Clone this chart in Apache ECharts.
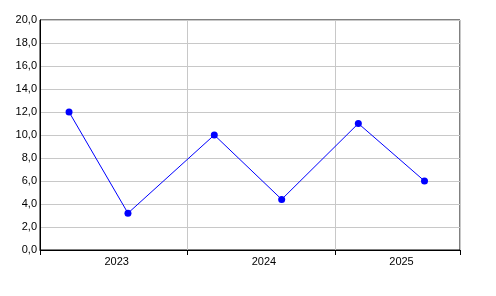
<!DOCTYPE html>
<html>
<head>
<meta charset="utf-8">
<script src="https://cdn.jsdelivr.net/npm/echarts@6/dist/echarts.min.js"></script>
<style>html,body{margin:0;padding:0;background:#fff;}#c{width:496px;height:296px;}</style>
</head>
<body>
<div id="c"></div>
<script>
var dates = ['2023-03-14', '2023-08-07', '2024-03-08', '2024-08-22', '2025-02-28', '2025-08-11'];
var values = [12.0, 3.2, 10.0, 4.4, 11.0, 6.0];
var axisStart = '2023-01-01';
var axisEnd = '2025-11-07';
var yearTicks = ['2023-01-01', '2024-01-01', '2025-01-01', '2025-11-07'];
var yearLabelAt = ['2023-07-10', '2024-07-09', '2025-06-15'];
var yearLabels = ['2023', '2024', '2025'];

function t(s) { return new Date(s + 'T00:00:00Z').getTime(); }
var labelTs = yearLabelAt.map(t);

var chart = echarts.init(document.getElementById('c'), null, {renderer: 'canvas'});
var font = 'Liberation Sans, Arial, sans-serif';
chart.setOption({
  animation: false,
  backgroundColor: '#fff',
  grid: {left: 40, top: 20, right: 36, bottom: 46, show: true, borderColor: '#000', borderWidth: 1, containLabel: false},
  xAxis: {
    type: 'value',
    min: t(axisStart),
    max: t(axisEnd),
    axisLine: {show: true, lineStyle: {color: '#000', width: 1}},
    axisTick: {show: true, length: 5, lineStyle: {color: '#000'}, customValues: yearTicks.map(t)},
    splitLine: {show: true, lineStyle: {color: '#c8c8c8', width: 1}},
    axisLabel: {
      show: true, color: '#000', fontSize: 11, fontFamily: font, margin: 6,
      customValues: labelTs,
      formatter: function (v) {
        var i = labelTs.indexOf(v);
        return i >= 0 ? yearLabels[i] : '';
      }
    }
  },
  yAxis: {
    type: 'value',
    min: 0, max: 20, interval: 2,
    axisLine: {show: true, lineStyle: {color: '#000', width: 1}},
    axisTick: {show: false},
    splitLine: {show: true, lineStyle: {color: '#c8c8c8', width: 1}},
    axisLabel: {
      color: '#000', fontSize: 11, fontFamily: font, margin: 3,
      formatter: function (v) { return v.toFixed(1).replace('.', ','); }
    }
  },
  series: [{
    type: 'line',
    data: dates.map(function (d, i) { return [t(d), values[i]]; }),
    symbol: 'circle',
    symbolSize: 7,
    showAllSymbol: true,
    itemStyle: {color: '#0000ff'},
    lineStyle: {color: '#0000ff', width: 1}
  }]
});
</script>
</body>
</html>
